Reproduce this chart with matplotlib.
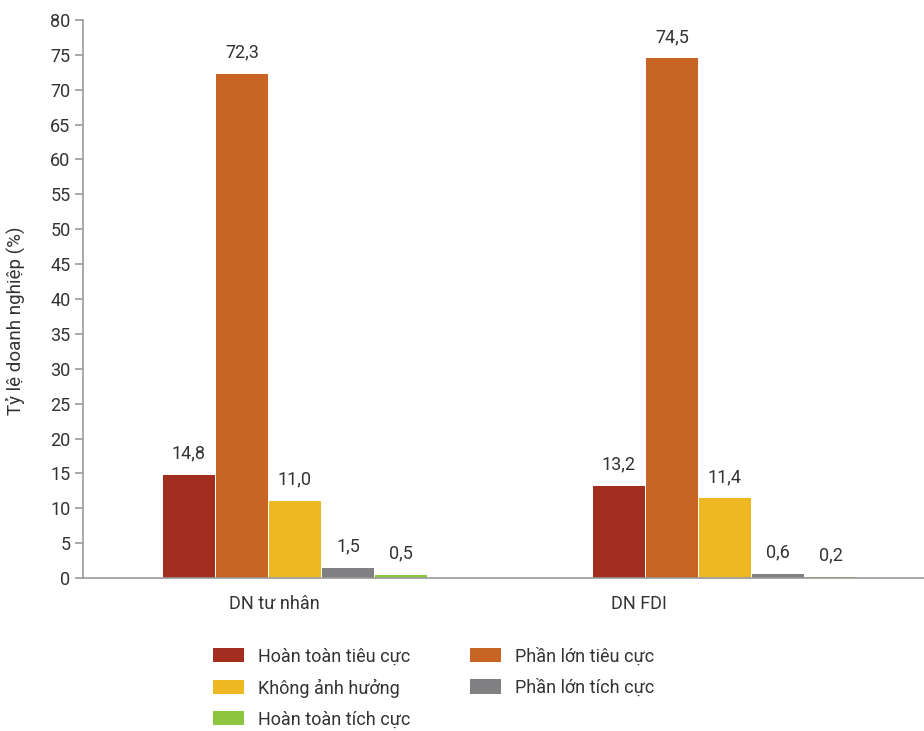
import matplotlib
matplotlib.use("Agg")
import matplotlib.pyplot as plt
import numpy as np
from matplotlib.patches import Patch

plt.rcParams['font.family'] = ['Roboto', 'DejaVu Sans']

categories = ["DN tư nhân", "DN FDI"]
series_names = ["Hoàn toàn tiêu cực", "Phần lớn tiêu cực", "Không ảnh hưởng",
                "Phần lớn tích cực", "Hoàn toàn tích cực"]
values = {
    "Hoàn toàn tiêu cực": [14.8, 13.2],
    "Phần lớn tiêu cực": [72.3, 74.5],
    "Không ảnh hưởng": [11.0, 11.4],
    "Phần lớn tích cực": [1.5, 0.6],
    "Hoàn toàn tích cực": [0.5, 0.2],
}
colors = ["#A32D1F", "#C86424", "#EDB821", "#808083", "#8CC53F"]
yticks = list(range(0, 85, 5))

fig = plt.figure(figsize=(9.24, 7.31), dpi=100)
ax = fig.add_axes([83/924, 1-578/731, 1-83/924, (578-20)/731])

x = np.arange(len(categories))
step = 53/430
w = 52/430
handles = []
for i, (name, c) in enumerate(zip(series_names, colors)):
    pos = x + (i - 2) * step
    vals = values[name]
    ax.bar(pos, vals, width=w, color=c, linewidth=0, zorder=2)
    for p, v in zip(pos, vals):
        ax.annotate(f"{v:.1f}".replace(".", ","), (p, v), xytext=(0, 9),
                    textcoords="offset points", ha="center", va="bottom",
                    fontsize=13, color="#333333")
    handles.append(Patch(facecolor=c, label=name))

ax.set_xlim(-0.493, 1.463)
ax.set_ylim(0, 80)
ax.set_yticks(yticks)
ax.set_yticklabels([str(t) for t in yticks], fontsize=13, color="#333333")
ax.set_xticks(x)
ax.set_xticklabels([""] * len(categories))
# category labels sit left of their group centres in the reference
label_shift_px = [-21, -86]
for xi, cat, dx in zip(x, categories, label_shift_px):
    ax.annotate(cat, xy=(xi, 0), xycoords=("data", "axes fraction"),
                xytext=(dx * 0.72, -12.5), textcoords="offset points",
                ha="center", va="top", fontsize=13, color="#333333",
                annotation_clip=False)
ax.tick_params(axis="x", length=0)
ax.tick_params(axis="y", length=6, color="#999999", width=1.2, pad=3)
for s in ["top", "right"]:
    ax.spines[s].set_visible(False)
for s in ["left", "bottom"]:
    ax.spines[s].set_color("#999999")
    ax.spines[s].set_linewidth(1.2)
ax.set_ylabel("Tỷ lệ doanh nghiệp (%)", fontsize=13.5, color="#333333")
ax.yaxis.set_label_coords(-0.069, 0.4606)

order = [0, 2, 4, 1, 3]
leg = fig.legend([handles[i] for i in order], [series_names[i] for i in order],
                 ncol=2, loc="upper left", bbox_to_anchor=(197/924, 1-631/731),
                 frameon=False, fontsize=13, handlelength=1.72, handleheight=0.83,
                 handletextpad=0.78, columnspacing=3.3, labelspacing=0.72)
for t in leg.get_texts():
    t.set_color("#333333")

fig.savefig("out.png", dpi=100)
